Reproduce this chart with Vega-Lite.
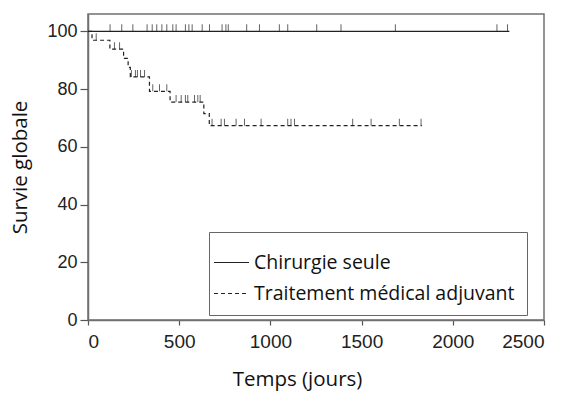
{
  "$schema": "https://vega.github.io/schema/vega-lite/v6.json",
  "width": 456,
  "height": 306,
  "autosize": {"type": "none"},
  "padding": {"left": 88, "top": 14, "right": 27, "bottom": 77},
  "background": "white",
  "config": {
    "view": {"stroke": "#707070", "strokeWidth": 1.5},
    "axis": {
      "grid": false,
      "domainColor": "#707070",
      "domainWidth": 1.5,
      "tickColor": "#555555",
      "tickWidth": 1.2,
      "labelFont": "Liberation Sans",
      "labelFontSize": 18,
      "labelColor": "#222222",
      "titleFont": "Open Sans",
      "titleFontSize": 20.5,
      "titleFontWeight": "normal",
      "titleColor": "#111111"
    }
  },
  "datasets": {
    "curves": [
      {"group": "Chirurgie seule", "day": 0, "surv": 100},
      {"group": "Chirurgie seule", "day": 2310, "surv": 100},
      {"group": "Traitement médical adjuvant", "day": 0, "surv": 100},
      {"group": "Traitement médical adjuvant", "day": 22, "surv": 96.9},
      {"group": "Traitement médical adjuvant", "day": 120, "surv": 93.8},
      {"group": "Traitement médical adjuvant", "day": 195, "surv": 90.6},
      {"group": "Traitement médical adjuvant", "day": 220, "surv": 87.5},
      {"group": "Traitement médical adjuvant", "day": 232, "surv": 84.2},
      {"group": "Traitement médical adjuvant", "day": 337, "surv": 79.2},
      {"group": "Traitement médical adjuvant", "day": 450, "surv": 75.5},
      {"group": "Traitement médical adjuvant", "day": 635, "surv": 71.5},
      {"group": "Traitement médical adjuvant", "day": 665, "surv": 67.3},
      {"group": "Traitement médical adjuvant", "day": 1830, "surv": 67.3}
    ],
    "censors": [
      {"group": "Chirurgie seule", "day": 121, "surv": 100},
      {"group": "Chirurgie seule", "day": 185, "surv": 100},
      {"group": "Chirurgie seule", "day": 246, "surv": 100},
      {"group": "Chirurgie seule", "day": 324, "surv": 100},
      {"group": "Chirurgie seule", "day": 352, "surv": 100},
      {"group": "Chirurgie seule", "day": 377, "surv": 100},
      {"group": "Chirurgie seule", "day": 405, "surv": 100},
      {"group": "Chirurgie seule", "day": 432, "surv": 100},
      {"group": "Chirurgie seule", "day": 465, "surv": 100},
      {"group": "Chirurgie seule", "day": 483, "surv": 100},
      {"group": "Chirurgie seule", "day": 534, "surv": 100},
      {"group": "Chirurgie seule", "day": 553, "surv": 100},
      {"group": "Chirurgie seule", "day": 571, "surv": 100},
      {"group": "Chirurgie seule", "day": 626, "surv": 100},
      {"group": "Chirurgie seule", "day": 666, "surv": 100},
      {"group": "Chirurgie seule", "day": 735, "surv": 100},
      {"group": "Chirurgie seule", "day": 756, "surv": 100},
      {"group": "Chirurgie seule", "day": 769, "surv": 100},
      {"group": "Chirurgie seule", "day": 870, "surv": 100},
      {"group": "Chirurgie seule", "day": 940, "surv": 100},
      {"group": "Chirurgie seule", "day": 1049, "surv": 100},
      {"group": "Chirurgie seule", "day": 1095, "surv": 100},
      {"group": "Chirurgie seule", "day": 1254, "surv": 100},
      {"group": "Chirurgie seule", "day": 1387, "surv": 100},
      {"group": "Chirurgie seule", "day": 1685, "surv": 100},
      {"group": "Chirurgie seule", "day": 2242, "surv": 100},
      {"group": "Chirurgie seule", "day": 2300, "surv": 100},
      {"group": "Traitement médical adjuvant", "day": 45, "surv": 96.9},
      {"group": "Traitement médical adjuvant", "day": 145, "surv": 93.8},
      {"group": "Traitement médical adjuvant", "day": 173, "surv": 93.8},
      {"group": "Traitement médical adjuvant", "day": 238, "surv": 84.2},
      {"group": "Traitement médical adjuvant", "day": 260, "surv": 84.2},
      {"group": "Traitement médical adjuvant", "day": 271, "surv": 84.2},
      {"group": "Traitement médical adjuvant", "day": 288, "surv": 84.2},
      {"group": "Traitement médical adjuvant", "day": 310, "surv": 84.2},
      {"group": "Traitement médical adjuvant", "day": 355, "surv": 79.2},
      {"group": "Traitement médical adjuvant", "day": 392, "surv": 79.2},
      {"group": "Traitement médical adjuvant", "day": 432, "surv": 79.2},
      {"group": "Traitement médical adjuvant", "day": 483, "surv": 75.5},
      {"group": "Traitement médical adjuvant", "day": 511, "surv": 75.5},
      {"group": "Traitement médical adjuvant", "day": 534, "surv": 75.5},
      {"group": "Traitement médical adjuvant", "day": 547, "surv": 75.5},
      {"group": "Traitement médical adjuvant", "day": 584, "surv": 75.5},
      {"group": "Traitement médical adjuvant", "day": 602, "surv": 75.5},
      {"group": "Traitement médical adjuvant", "day": 615, "surv": 75.5},
      {"group": "Traitement médical adjuvant", "day": 680, "surv": 67.3},
      {"group": "Traitement médical adjuvant", "day": 730, "surv": 67.3},
      {"group": "Traitement médical adjuvant", "day": 748, "surv": 67.3},
      {"group": "Traitement médical adjuvant", "day": 812, "surv": 67.3},
      {"group": "Traitement médical adjuvant", "day": 858, "surv": 67.3},
      {"group": "Traitement médical adjuvant", "day": 949, "surv": 67.3},
      {"group": "Traitement médical adjuvant", "day": 1095, "surv": 67.3},
      {"group": "Traitement médical adjuvant", "day": 1113, "surv": 67.3},
      {"group": "Traitement médical adjuvant", "day": 1132, "surv": 67.3},
      {"group": "Traitement médical adjuvant", "day": 1451, "surv": 67.3},
      {"group": "Traitement médical adjuvant", "day": 1552, "surv": 67.3},
      {"group": "Traitement médical adjuvant", "day": 1707, "surv": 67.3},
      {"group": "Traitement médical adjuvant", "day": 1826, "surv": 67.3}
    ]
  },
  "layer": [
    {
      "data": {"name": "curves"},
      "mark": {"type": "line", "interpolate": "step-after", "color": "#222222", "strokeWidth": 1.2},
      "encoding": {
        "x": {
          "field": "day", "type": "quantitative",
          "scale": {"domain": [0, 2500], "nice": false},
          "axis": {"values": [0, 500, 1000, 1500, 2000, 2500], "format": "d", "labelFontSize": 19, "tickSize": 5, "labelPadding": 7, "title": "Temps (jours)", "titlePadding": 18, "titleX": 209}
        },
        "y": {
          "field": "surv", "type": "quantitative",
          "scale": {"domain": [0, 106], "nice": false, "zero": true},
          "axis": {"values": [0, 20, 40, 60, 80, 100], "format": "d", "tickSize": 8, "labelPadding": 3, "title": "Survie globale", "titlePadding": 16}
        },
        "strokeDash": {
          "field": "group", "type": "nominal",
          "scale": {"domain": ["Chirurgie seule", "Traitement médical adjuvant"], "range": [[1, 0], [4, 3]]},
          "legend": {
            "orient": "none",
            "legendX": 121,
            "legendY": 218,
            "title": null,
            "labelFont": "Open Sans",
            "labelFontSize": 19.5,
            "labelColor": "#111111",
            "labelOffset": 4,
            "labelLimit": 400,
            "symbolType": "stroke",
            "symbolSize": 1225,
            "symbolOffset": -8,
            "symbolStrokeWidth": 1.2,
            "symbolStrokeColor": "#222222",
            "strokeColor": "#666666",
            "fillColor": "white",
            "padding": 12,
            "rowPadding": 3
          }
        }
      }
    },
    {
      "data": {"name": "censors"},
      "mark": {"type": "tick", "orient": "vertical", "size": 7, "thickness": 1, "yOffset": -3.5, "color": "#222222"},
      "encoding": {
        "x": {"field": "day", "type": "quantitative"},
        "y": {"field": "surv", "type": "quantitative"}
      }
    }
  ]
}
